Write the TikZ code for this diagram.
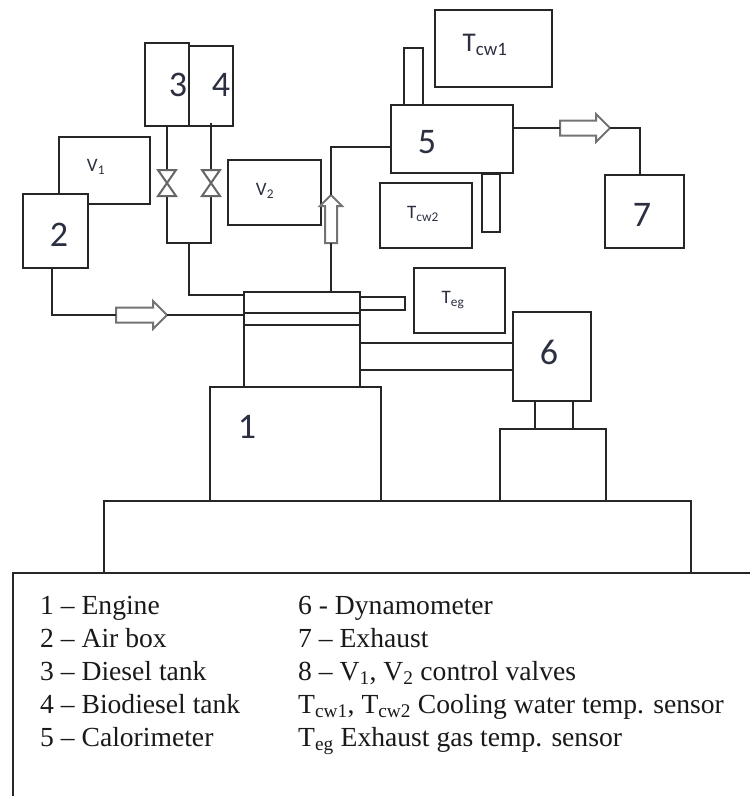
\documentclass[tikz,border=0pt]{standalone}
\usepackage{fontspec}
\setmainfont{Liberation Serif}
\newfontfamily\numfont{Carlito}
\usetikzlibrary{positioning,shapes.arrows}
\definecolor{numink}{HTML}{2B2F40}
\tikzset{part/.style={rectangle, draw=black!85, fill=white, line width=2.6pt, inner sep=0pt, outer sep=0pt, anchor=north west},
       hollow/.style={single arrow, draw=black!55, fill=white, line width=2pt, inner sep=0pt, outer sep=0pt, single arrow head extend=6.5pt, text height=13pt, text depth=0pt, minimum width=26pt, anchor=tail},
       valve/.style={draw=black!60, fill=white, line width=2pt},
       pipe/.style={draw=black!85, line width=2.6pt},
       num/.style={font=\numfont\fontsize{36}{36}\selectfont, text=numink},
       tag/.style={font=\numfont\fontsize{19}{19}\selectfont, text=numink},
       legend/.style={font=\fontsize{27.6}{33}\selectfont, align=left, anchor=north west, inner sep=0pt, text=black!90}}

\begin{document}
\begin{tikzpicture}[x=1pt, y=-1pt]
\useasboundingbox (0,0) rectangle (750,796);
\node [part, minimum width=587, minimum height=72] (base) at (104,501) {};
\node [part, minimum width=171, minimum height=114] (engine) at (210,387) {};
\node [part, minimum width=116, minimum height=21] (ringa) at (244,292) {};
\node [part, minimum width=116, minimum height=12] (ringb) at (244,313) {};
\node [part, minimum width=116, minimum height=62] (block) at (244,325) {};
\node [part, minimum width=45, minimum height=13] (outlet) at (360,297) {};
\node [part, minimum width=106, minimum height=72] (mount) at (500,429) {};
\node [part, minimum width=38, minimum height=28] (stand) at (535,401) {};
\node [part, minimum width=78, minimum height=89] (dyno) at (513,312) {};
\node [part, minimum width=91, minimum height=67] (vone) at (59,137) {};
\node [part, minimum width=65, minimum height=74] (airbox) at (23,194) {};
\node [part, minimum width=44, minimum height=80] (biotank) at (189,46) {};
\node [part, minimum width=44, minimum height=83] (dieseltank) at (145,43) {};
\node [part, minimum width=93, minimum height=65] (vtwo) at (228,160) {};
\node [part, minimum width=117, minimum height=77] (tcwone) at (435,10) {};
\node [part, minimum width=19, minimum height=57] (wellup) at (404,48) {};
\node [part, minimum width=18, minimum height=58] (welldown) at (482,174) {};
\node [part, minimum width=122, minimum height=68] (calorimeter) at (391,105) {};
\node [part, minimum width=92, minimum height=65] (tcwtwo) at (380,183) {};
\node [part, minimum width=91, minimum height=65] (teg) at (414,268) {};
\node [part, minimum width=79, minimum height=73] (exhaust) at (605,175) {};
\coordinate (valvea) at (167,183);
\coordinate (valveb) at (211,183);
\coordinate (joint) at (189,243);
\node [hollow, minimum height=51] (airarrow) at (116,315) {};
\node [hollow, minimum height=50] (exarrow) at (560,128) {};
\node [hollow, shape border rotate=90, minimum height=48, minimum width=20, single arrow head extend=5pt, text width=10pt, text height=0pt] (uparrow) at (331,243) {};
\draw [pipe] ([xshift=-3.5]airbox.south) |- (airarrow.tail);
\draw [pipe] (airarrow.tip) -- ([yshift=-2]ringa.south west);
\draw [pipe] (dieseltank.south) -- (valvea |- joint) -- (valveb |- joint) -- ([yshift=3]biotank.south);
\draw [pipe] (joint) |- ([yshift=7.5]ringa.west);
\draw [pipe] (uparrow.tail) -- (uparrow.tail |- ringa.north);
\draw [pipe] (uparrow.tip) |- ([yshift=-8]calorimeter.west);
\draw [pipe] ([yshift=11]calorimeter.east) -- (exarrow.tail);
\draw [pipe] (exarrow.tip) -| ([xshift=-4.5]exhaust.north);
\draw [pipe] ([yshift=13]block.east) -- ([yshift=13]block.east -| dyno.west);
\draw [pipe] ([yshift=-14]block.east) -- ([yshift=-14]block.east -| dyno.west);
\draw [valve] ([shift={(-9,-13)}]valvea) -- ++(18,0) -- ++(-18,26) -- ++(18,0) -- cycle;
\draw [valve] ([shift={(-9,-13)}]valveb) -- ++(18,0) -- ++(-18,26) -- ++(18,0) -- cycle;
\node [num] (numone) at (247,427) {1};
\node [num] (numtwo) at (59,235) {2};
\node [num] (numthree) at (178,85) {3};
\node [num] (numfour) at (221,85) {4};
\node [num] (numfive) at (427,142) {5};
\node [num] (numsix) at (549,352) {6};
\node [num] (numseven) at (642,215) {7};
\node [tag] (labvone) at (96,167) {V\textsubscript{1}};
\node [tag] (labvtwo) at (265,191) {V\textsubscript{2}};
\node [tag, font=\numfont\fontsize{27}{27}\selectfont] (labtcwone) at (485,45) {T\textsubscript{cw1}};
\node [tag] (labtcwtwo) at (423,214) {T\textsubscript{cw2}};
\node [tag] (labteg) at (453,300) {T\textsubscript{eg}};
\coordinate (legendcorner) at (13,573);
\coordinate (legendfoot) at (13,796);
\coordinate (legendend) at (750,573);
\draw [pipe] (legendfoot) -- (legendcorner) -- (legendend);
\node [legend] (legendleft) at (40,596) {1 -- Engine\\2 -- Air box\\3 -- Diesel tank\\4 -- Biodiesel tank\\5 -- Calorimeter};
\node [legend] (legendright) at (298,596) {6 - Dynamometer\\7 -- Exhaust\\8 -- V\textsubscript{1}, V\textsubscript{2} control valves\\T\textsubscript{cw1}, T\textsubscript{cw2} Cooling water temp. sensor\\T\textsubscript{eg} Exhaust gas temp. sensor};
\end{tikzpicture}
\end{document}
